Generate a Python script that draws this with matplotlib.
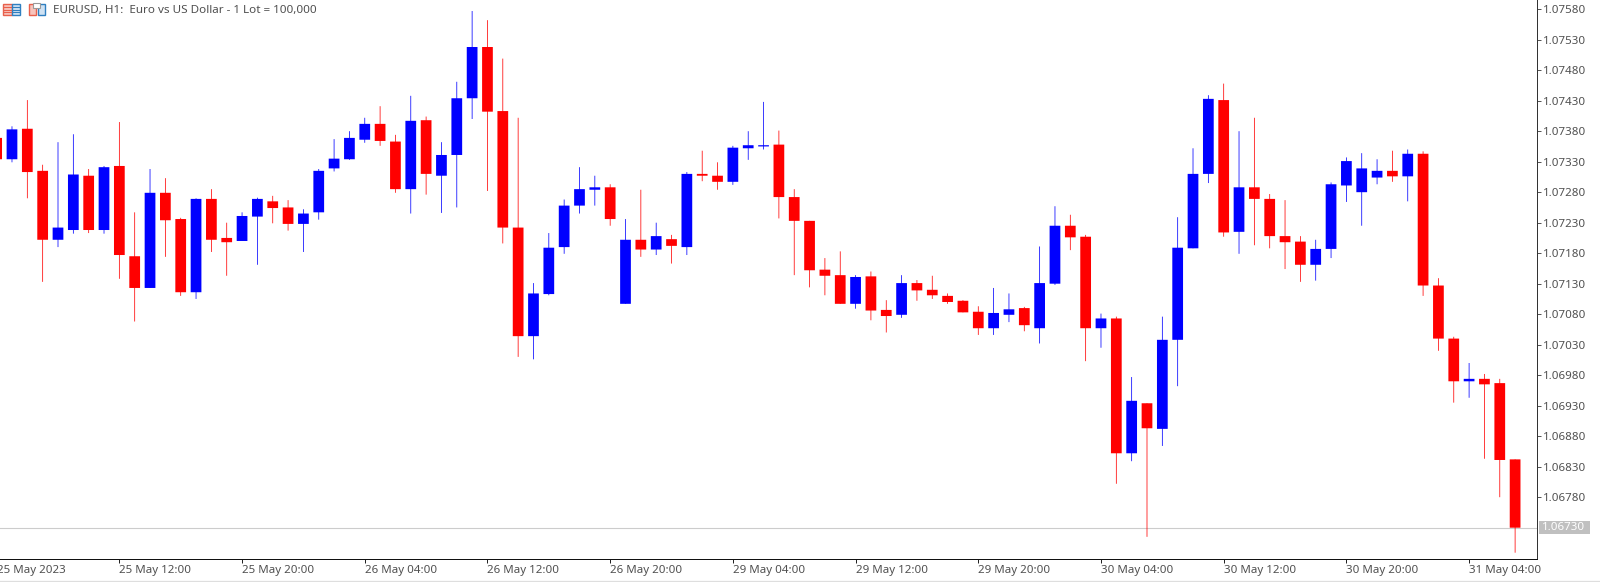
import numpy as np
import matplotlib
matplotlib.use('Agg')
import matplotlib.pyplot as plt
from matplotlib.patches import Rectangle
from matplotlib.transforms import blended_transform_factory

# EURUSD H1 bars, prices in points (1.07374 -> 107374), first bar is cut by the left edge
opens = [107369, 107334, 107384, 107315, 107202, 107218, 107307, 107218, 107323, 107175,
         107123, 107279, 107236, 107116, 107269, 107205, 107200, 107240, 107265, 107255,
         107228, 107247, 107319, 107334, 107366, 107392, 107363, 107285, 107398, 107307,
         107341, 107434, 107518, 107413, 107222, 107044, 107113, 107190, 107258, 107284,
         107288, 107097, 107202, 107186, 107203, 107190, 107310, 107307, 107297, 107352,
         107355, 107358, 107272, 107233, 107153, 107144, 107097, 107142, 107087, 107079,
         107131, 107120, 107110, 107102, 107084, 107057, 107079, 107090, 107057, 107130,
         107225, 107207, 107057, 107073, 106852, 106934, 106892, 107038, 107188, 107310,
         107431, 107215, 107288, 107269, 107208, 107199, 107161, 107187, 107291, 107280,
         107304, 107315, 107306, 107343, 107127, 107040, 106970, 106974, 106967, 106842]
highs = [107374, 107388, 107431, 107325, 107362, 107375, 107318, 107323, 107395, 107247,
         107318, 107303, 107238, 107270, 107285, 107230, 107247, 107271, 107274, 107267,
         107252, 107318, 107367, 107380, 107402, 107421, 107374, 107438, 107404, 107362,
         107461, 107577, 107562, 107499, 107402, 107131, 107213, 107268, 107321, 107307,
         107293, 107236, 107284, 107230, 107210, 107313, 107348, 107329, 107356, 107380,
         107428, 107381, 107285, 107233, 107172, 107183, 107144, 107150, 107103, 107144,
         107136, 107143, 107114, 107103, 107093, 107123, 107114, 107092, 107191, 107257,
         107243, 107210, 107081, 107076, 106977, 106934, 107076, 107239, 107352, 107439,
         107458, 107380, 107402, 107277, 107267, 107208, 107202, 107296, 107337, 107344,
         107334, 107348, 107350, 107347, 107139, 107043, 107000, 106982, 106974, 106842]
lows = [107333, 107329, 107270, 107133, 107190, 107212, 107213, 107212, 107138, 107068,
        107123, 107174, 107110, 107105, 107182, 107143, 107200, 107161, 107229, 107217,
        107182, 107235, 107314, 107333, 107361, 107356, 107279, 107245, 107276, 107246,
        107255, 107400, 107282, 107196, 107010, 107006, 107111, 107179, 107245, 107258,
        107225, 107097, 107174, 107177, 107163, 107177, 107298, 107284, 107292, 107333,
        107350, 107237, 107144, 107124, 107111, 107097, 107089, 107070, 107050, 107074,
        107102, 107105, 107097, 107083, 107046, 107046, 107067, 107052, 107032, 107128,
        107185, 107003, 107025, 106802, 106839, 106715, 106864, 106962, 107188, 107295,
        107207, 107179, 107193, 107188, 107154, 107133, 107135, 107172, 107264, 107225,
        107293, 107297, 107265, 107110, 107020, 106935, 106943, 106843, 106780, 106689]
closes = [107334, 107383, 107313, 107202, 107222, 107309, 107218, 107321, 107177, 107123,
          107279, 107234, 107116, 107269, 107202, 107198, 107241, 107269, 107254, 107228,
          107245, 107315, 107335, 107369, 107392, 107364, 107285, 107397, 107310, 107341,
          107434, 107518, 107412, 107222, 107044, 107114, 107189, 107258, 107285, 107288,
          107236, 107202, 107186, 107208, 107192, 107310, 107307, 107297, 107353, 107357,
          107357, 107272, 107233, 107152, 107143, 107097, 107141, 107086, 107077, 107131,
          107119, 107111, 107100, 107083, 107057, 107082, 107088, 107062, 107131, 107225,
          107206, 107057, 107073, 106852, 106938, 106893, 107038, 107189, 107310, 107433,
          107214, 107288, 107269, 107208, 107198, 107161, 107187, 107293, 107331, 107319,
          107315, 107306, 107343, 107127, 107040, 106970, 106974, 106965, 106841, 106730]

time_labels = ['25 May 2023', '25 May 12:00', '25 May 20:00', '26 May 04:00', '26 May 12:00',
               '26 May 20:00', '29 May 04:00', '29 May 12:00', '29 May 20:00', '30 May 04:00',
               '30 May 12:00', '30 May 20:00', '31 May 04:00']
price_ticks = [107580, 107530, 107480, 107430, 107380, 107330, 107280, 107230, 107180,
               107130, 107080, 107030, 106980, 106930, 106880, 106830, 106780]
last_price = 106730
title = 'EURUSD, H1:  Euro vs US Dollar - 1 Lot = 100,000'

plt.rcParams['font.family'] = ['Noto Sans', 'DejaVu Sans']

W, H = 1600, 582
TXT = '#505050'
fig = plt.figure(figsize=(W / 100, H / 100), dpi=100, facecolor='white')

# chart area in pixels: right edge 1536.5, bottom edge 558.5
ax = fig.add_axes([0, (H - 558.5) / H, 1536.5 / W, 558.5 / H])
step = 15.338
x0 = 11.986
ax.set_xlim(-x0 / step, (1536.5 - x0) / step)
ax.set_ylim(106679.5, 107595.06)

opens = np.array(opens)
highs = np.array(highs)
lows = np.array(lows)
closes = np.array(closes)
x = np.arange(len(opens)) - 1
cols = np.where(closes > opens, '#0000ff', '#ff0000')

ax.axhline(last_price, color='#cccccc', lw=0.8, zorder=1)
# wicks as thin bars, unsnapped so they blur over two pixels like the screenshot
ax.bar(x, highs - lows, bottom=lows, width=0.75 / step, color=cols, lw=0, zorder=2, snap=False)
ax.bar(x, np.abs(closes - opens), bottom=np.minimum(opens, closes), width=0.70,
       color=cols, lw=0, zorder=3, snap=False)

for s in ['top', 'left']:
    ax.spines[s].set_visible(False)
ax.spines['right'].set_linewidth(0.72)
ax.spines['bottom'].set_linewidth(0.72)
ax.spines['right'].set_color('#333333')
ax.spines['bottom'].set_color('#111111')

time_pos = x[0] + 8 * np.arange(len(time_labels))
ax.set_xticks(time_pos[1:])
ax.set_xticklabels([])
ax.tick_params(axis='x', length=2.6, width=0.72, color='#222222')
trans = blended_transform_factory(ax.transData, ax.transAxes)
for p, lab in zip(time_pos, time_labels):
    ax.annotate(lab, (p, 0), xycoords=trans, xytext=(0, -12.5), textcoords='offset pixels',
                ha='left', va='center', fontsize=8.3, color=TXT, annotation_clip=False)

ax.yaxis.tick_right()
ax.set_yticks(price_ticks)
ax.set_yticklabels([f'{p / 1e5:.5f}' for p in price_ticks], fontsize=8.3, color=TXT)
ax.tick_params(axis='y', length=2.9, width=0.72, color='#555555', pad=1.5)

# last price flag, title, icons and bottom edge go on an overlay in pixels
over = fig.add_axes([0, 0, 1, 1])
over.set_xlim(0, W)
over.set_ylim(H, 0)
over.axis('off')
over.patch.set_alpha(0)

y_last = 558.5 * (107595.06 - last_price) / (107595.06 - 106679.5)
over.add_patch(Rectangle((1539, y_last - 6.5), 51, 12.5, fc='#c0c0c0', ec='none'))
over.text(1542, y_last, f'{last_price / 1e5:.5f}', color='white', fontsize=8.3,
          ha='left', va='center')

over.text(53, 10, title, color=TXT, fontsize=8.4, ha='left', va='center')

# little toolbar icons
over.add_patch(Rectangle((2.5, 3.5), 9, 11, fc='#f8c4bc', ec='#e8604c', lw=1.0))
over.add_patch(Rectangle((11.5, 3.5), 8, 11, fc='#cfe2f3', ec='#2f7fc0', lw=1.0))
for yy in [6.5, 9.5, 12]:
    over.plot([4, 10.5], [yy, yy], color='#e8604c', lw=0.8)
    over.plot([12.5, 18.5], [yy, yy], color='#2f7fc0', lw=0.8)
over.add_patch(Rectangle((28.5, 3.5), 7, 11.5, fc='#f8c4bc', ec='#e8604c', lw=1.0))
over.add_patch(Rectangle((38, 3.5), 7, 11.5, fc='#cfe2f3', ec='#2f7fc0', lw=1.0))
over.add_patch(Rectangle((33, 2.5), 7, 5, fc='white', ec='#9a9a9a', lw=0.8))

over.plot([0, W], [581, 581], color='#dedede', lw=0.9)

fig.savefig('out.png', dpi=100)
